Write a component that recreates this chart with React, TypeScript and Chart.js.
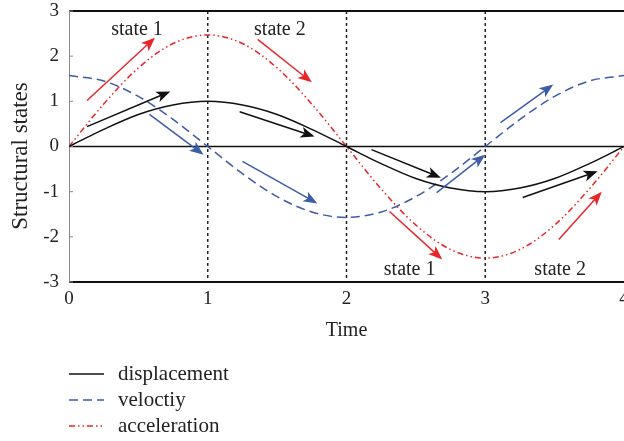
import React, { useEffect, useRef } from "react";
import { Chart, registerables } from "chart.js";

Chart.register(...registerables);

// ---- data ----
const times = [0, 0.25, 0.5, 0.75, 1, 1.25, 1.5, 1.75, 2, 2.25, 2.5, 2.75, 3, 3.25, 3.5, 3.75, 4];
const displacement = [0, 0.38, 0.71, 0.92, 1, 0.92, 0.71, 0.38, 0, -0.38, -0.71, -0.92, -1, -0.92, -0.71, -0.38, 0];
const velocity = [1.57, 1.45, 1.11, 0.6, 0, -0.6, -1.11, -1.45, -1.57, -1.45, -1.11, -0.6, 0, 0.6, 1.11, 1.45, 1.57];
const acceleration = [0, 0.94, 1.74, 2.28, 2.47, 2.28, 1.74, 0.94, 0, -0.94, -1.74, -2.28, -2.47, -2.28, -1.74, -0.94, 0];
const seriesNames = ["displacement", "veloctiy", "acceleration"];
const xTicks = [0, 1, 2, 3, 4];
const yTicks = [-3, -2, -1, 0, 1, 2, 3];
const stateDividers = [1, 2, 3];
const yTitle = "Structural states";
// annotation arrows: [x0, y0, x1, y1, seriesIndex]
const arrows: [number, number, number, number, number][] = [
  [0.13, 1.02, 0.62, 2.41, 2],
  [0.13, 0.44, 0.73, 1.22, 0],
  [0.58, 0.71, 0.97, -0.18, 1],
  [1.25, -0.33, 1.79, -1.26, 1],
  [1.23, 0.77, 1.77, 0.22, 0],
  [1.36, 2.37, 1.75, 1.42, 2],
  [2.18, -0.07, 2.68, -0.69, 0],
  [2.65, -1.02, 3.0, -0.18, 1],
  [2.31, -1.44, 2.69, -2.5, 2],
  [3.11, 0.53, 3.49, 1.37, 1],
  [3.27, -1.13, 3.81, -0.55, 0],
  [3.53, -2.06, 3.84, -1.0, 2],
];
// state labels: [text, x, y]
const stateLabels: [string, number, number][] = [
  ["state 1", 0.49, 2.59],
  ["state 2", 1.52, 2.59],
  ["state 1", 2.455, -2.72],
  ["state 2", 3.54, -2.72],
];

const FONT = "'Liberation Serif', 'Times New Roman', serif";
const colors = ["#111111", "#3d5ca8", "#e8262a"];
const dashes = [[], [9, 5], [6, 3, 1.5, 3, 1.5, 3]];

const decorPlugin = {
  id: "decor",
  beforeDatasetsDraw(chart: any) {
    const { ctx, chartArea, scales } = chart;
    const xs = scales.x, ys = scales.y;
    ctx.save();
    ctx.strokeStyle = "#222";
    ctx.lineWidth = 1.5;
    ctx.setLineDash([3, 3]);
    stateDividers.forEach((v) => {
      const px = xs.getPixelForValue(v);
      ctx.beginPath();
      ctx.moveTo(px, chartArea.top);
      ctx.lineTo(px, chartArea.bottom);
      ctx.stroke();
    });
    ctx.setLineDash([]);
    ctx.strokeStyle = "#111";
    ctx.lineWidth = 1.5;
    const y0 = ys.getPixelForValue(0);
    ctx.beginPath();
    ctx.moveTo(chartArea.left, y0);
    ctx.lineTo(chartArea.right, y0);
    ctx.stroke();
    ctx.lineWidth = 2;
    [ys.getPixelForValue(3), ys.getPixelForValue(-3)].forEach((py) => {
      ctx.beginPath();
      ctx.moveTo(chartArea.left, py);
      ctx.lineTo(chartArea.right, py);
      ctx.stroke();
    });
    ctx.strokeStyle = "#8a8a8a";
    ctx.lineWidth = 1;
    ctx.beginPath();
    ctx.moveTo(chartArea.left + 0.5, chartArea.top);
    ctx.lineTo(chartArea.left + 0.5, chartArea.bottom);
    ctx.stroke();
    yTicks.forEach((v) => {
      const py = ys.getPixelForValue(v);
      ctx.beginPath();
      ctx.moveTo(chartArea.left, py);
      ctx.lineTo(chartArea.left + 4, py);
      ctx.stroke();
    });
    ctx.restore();
  },
  afterDatasetsDraw(chart: any) {
    const { ctx, scales } = chart;
    const xs = scales.x, ys = scales.y;
    ctx.save();
    arrows.forEach(([a, b, c, d, s]) => {
      const x0 = xs.getPixelForValue(a), y0 = ys.getPixelForValue(b);
      const x1 = xs.getPixelForValue(c), y1 = ys.getPixelForValue(d);
      const ang = Math.atan2(y1 - y0, x1 - x0);
      const hl = 14, hw = 5.5;
      ctx.strokeStyle = colors[s];
      ctx.fillStyle = colors[s];
      ctx.lineWidth = 1.5;
      ctx.beginPath();
      ctx.moveTo(x0, y0);
      ctx.lineTo(x1 - Math.cos(ang) * hl * 0.7, y1 - Math.sin(ang) * hl * 0.7);
      ctx.stroke();
      const bx = x1 - Math.cos(ang) * hl, by = y1 - Math.sin(ang) * hl;
      const mx = x1 - Math.cos(ang) * hl * 0.75, my = y1 - Math.sin(ang) * hl * 0.75;
      ctx.beginPath();
      ctx.moveTo(x1, y1);
      ctx.lineTo(bx - Math.sin(ang) * hw, by + Math.cos(ang) * hw);
      ctx.lineTo(mx, my);
      ctx.lineTo(bx + Math.sin(ang) * hw, by - Math.cos(ang) * hw);
      ctx.closePath();
      ctx.fill();
    });
    ctx.fillStyle = "#222";
    ctx.font = `20px ${FONT}`;
    ctx.textAlign = "center";
    ctx.textBaseline = "middle";
    stateLabels.forEach(([t, x, y]) => {
      ctx.fillText(t, xs.getPixelForValue(x), ys.getPixelForValue(y));
    });
    ctx.restore();
  },
  afterDraw(chart: any) {
    const { ctx } = chart;
    ctx.save();
    // y-axis title
    ctx.save();
    ctx.translate(21, 156);
    ctx.rotate(-Math.PI / 2);
    ctx.fillStyle = "#222";
    ctx.font = `23px ${FONT}`;
    ctx.textAlign = "center";
    ctx.textBaseline = "middle";
    ctx.fillText(yTitle, 0, 0);
    ctx.restore();
    // legend
    const rows = [374, 400, 426];
    seriesNames.forEach((name, i) => {
      ctx.strokeStyle = colors[i];
      ctx.lineWidth = 1.5;
      ctx.setLineDash(dashes[i]);
      ctx.beginPath();
      ctx.moveTo(69, rows[i]);
      ctx.lineTo(104, rows[i]);
      ctx.stroke();
      ctx.setLineDash([]);
      ctx.fillStyle = "#222";
      ctx.font = `21px ${FONT}`;
      ctx.textAlign = "left";
      ctx.textBaseline = "middle";
      ctx.fillText(name, 118, rows[i]);
    });
    ctx.restore();
  },
};

export default function App() {
  const ref = useRef<HTMLCanvasElement>(null);
  useEffect(() => {
    if (!ref.current) return;
    const series = [displacement, velocity, acceleration];
    const chart = new Chart(ref.current, {
      type: "line",
      data: {
        datasets: series.map((vals, i) => ({
          label: seriesNames[i],
          data: times.map((t, k) => ({ x: t, y: vals[k] })),
          borderColor: colors[i],
          borderWidth: 1.5,
          borderDash: dashes[i],
          pointRadius: 0,
          fill: false,
          cubicInterpolationMode: "monotone" as const,
        })),
      },
      options: {
        animation: false,
        responsive: false,
        layout: { padding: { top: 11, right: 26, bottom: 96, left: 0 } },
        plugins: { legend: { display: false }, tooltip: { enabled: false } },
        scales: {
          x: {
            type: "linear",
            min: 0,
            max: 4,
            afterBuildTicks: (s: any) => { s.ticks = xTicks.map((v) => ({ value: v })); },
            afterFit: (s: any) => { s.height = 63; s.paddingLeft = 0; s.paddingRight = 0; },
            ticks: { font: { family: FONT, size: 19 }, color: "#222", padding: 6, maxRotation: 0 },
            grid: { display: false, drawTicks: false },
            border: { display: false },
            title: { display: true, text: "Time", font: { family: FONT, size: 20 }, color: "#222", padding: { top: 0, bottom: 2 } },
          },
          y: {
            type: "linear",
            min: -3,
            max: 3,
            afterBuildTicks: (s: any) => { s.ticks = yTicks.map((v) => ({ value: v })); },
            afterFit: (s: any) => { s.width = 69; s.paddingTop = 0; s.paddingBottom = 0; },
            ticks: { font: { family: FONT, size: 19 }, color: "#222", padding: 10 },
            grid: { display: false, drawTicks: false },
            border: { display: false },
            title: { display: false },
          },
        },
      },
      plugins: [decorPlugin],
    });
    return () => chart.destroy();
  }, []);
  return (
    <div style={{ position: "fixed", left: 0, top: 0, width: 650, height: 441, background: "#fff" }}>
      <canvas ref={ref} width={650} height={441} style={{ display: "block" }} />
    </div>
  );
}
